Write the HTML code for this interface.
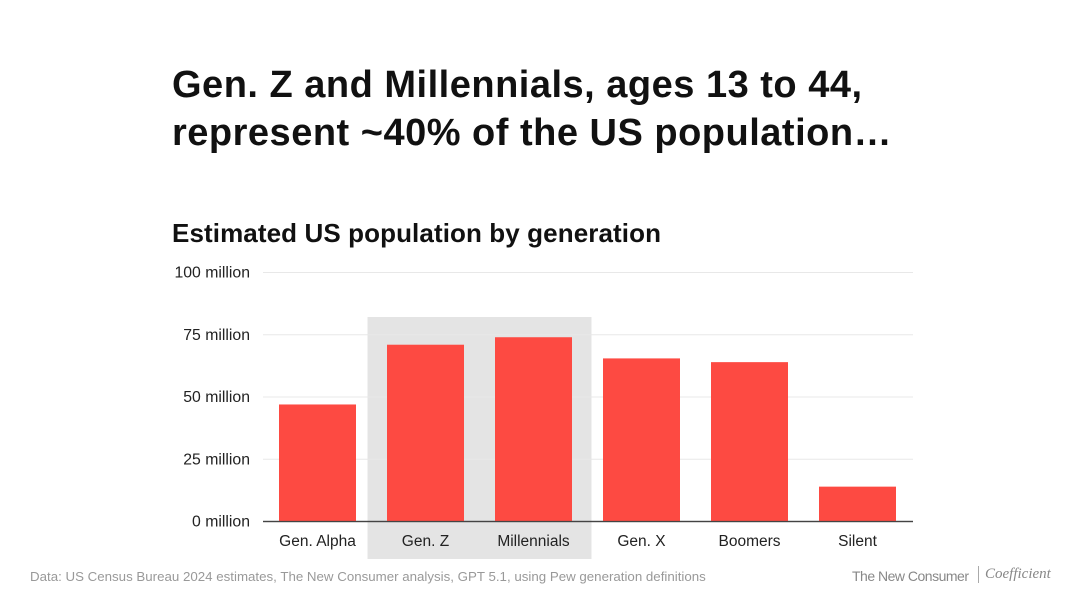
<!DOCTYPE html>
<html><head><meta charset="utf-8"><style>
body{margin:0;width:1080px;height:608px;background:#fff;font-family:"Liberation Sans",sans-serif;overflow:hidden;position:relative}
.t{position:absolute;left:172px;top:61px;font-size:38px;font-weight:bold;color:#111;line-height:48px;letter-spacing:0.5px}
.s{position:absolute;left:172px;top:218px;font-size:26px;font-weight:bold;color:#111;letter-spacing:0.1px}
.src{position:absolute;left:30px;top:569px;font-size:13.3px;color:#999}
.lg{position:absolute;left:852px;top:568px;font-size:14px;color:#888;letter-spacing:-0.5px}
.lg2{position:absolute;left:978px;top:566px;font-size:15px;color:#888;font-family:"Liberation Serif",serif;font-style:italic;border-left:1px solid #aaa;padding-left:6px}
</style></head><body>
<div class="t">Gen. Z and Millennials, ages 13 to 44,<br>represent ~40% of the US population…</div>
<div class="s">Estimated US population by generation</div>
<svg id="c" width="1080" height="608" style="position:absolute;left:0;top:0"></svg>
<div class="src">Data: US Census Bureau 2024 estimates, The New Consumer analysis, GPT 5.1, using Pew generation definitions</div>
<div class="lg">The New Consumer</div>
<div class="lg2">Coefficient</div>
<script>
const categories=["Gen. Alpha","Gen. Z","Millennials","Gen. X","Boomers","Silent"];
const values=[47,71,74,65.5,64,14];
const ticks=[0,25,50,75,100];
const highlighted=["Gen. Z","Millennials"];
const ns="http://www.w3.org/2000/svg",svg=document.getElementById('c');
const y0=521.5,y100=272.5,left=263,right=913,band=108,bw=77;
const y=v=>y0-(v/100)*(y0-y100);
const xc=i=>317.5+i*band;
function mk(t,a){const e=document.createElementNS(ns,t);for(const k in a)e.setAttribute(k,a[k]);svg.appendChild(e);return e;}
const hi=highlighted.map(h=>categories.indexOf(h));
const hx0=xc(Math.min(...hi))-band/2-4,hx1=xc(Math.max(...hi))+band/2+4;
let r=mk('rect',{x:hx0,y:317,width:hx1-hx0,height:242,fill:'#e4e4e4'});


ticks.forEach(t=>{
 let l=mk('line',{x1:left,x2:right,y1:y(t),y2:y(t),stroke:t==0?'#444':'#e8e8e8','stroke-width':t==0?1.2:1});
 
 
 let tx=mk('text',{x:250,y:y(t)+5,'text-anchor':'end','font-size':15.8,fill:'#222'});tx.textContent=t+' million';
 
 
});
categories.forEach((c,i)=>{
 let b=mk('rect',{x:xc(i)-bw/2,y:y(values[i]),width:bw,height:y0-y(values[i]),fill:'#fd4a42'});
 
 
 let tx=mk('text',{x:xc(i),y:546,'text-anchor':'middle','font-size':15.5,fill:'#222'});tx.textContent=c;
 
 
});
mk('line',{x1:left,x2:right,y1:y0,y2:y0,stroke:'#444','stroke-width':1.2});
</script>
</body></html>
